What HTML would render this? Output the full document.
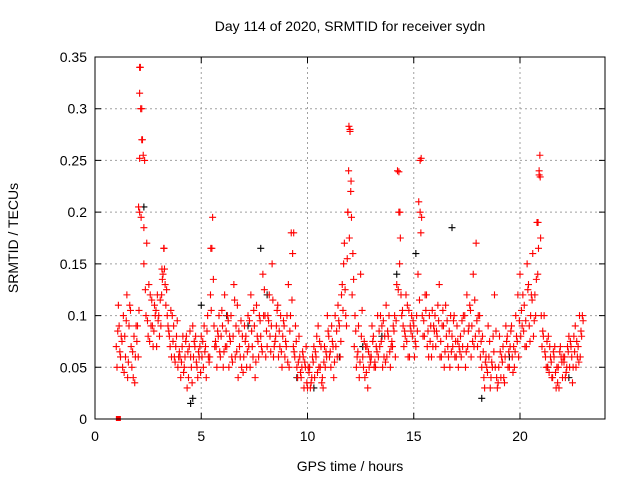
<!DOCTYPE html>
<html><head><meta charset="utf-8">
<style>
body{margin:0;background:#fff;}
svg{display:block;font-family:"Liberation Sans",sans-serif;}
</style></head>
<body>
<svg id="chart" width="640" height="480">
<text x="350" y="31" font-size="14" text-anchor="middle">Day 114 of 2020, SRMTID for receiver sydn</text>
<text x="350" y="471" font-size="14" text-anchor="middle">GPS time / hours</text>
<text x="18" y="238" font-size="14" text-anchor="middle" transform="rotate(-90 18 238)">SRMTID / TECUs</text>
<g id="grid"></g>
<g id="marks"></g>
<rect x="95" y="57" width="510" height="362" fill="none" stroke="#000" stroke-width="1"/>
<g id="ticks"></g>
</svg>
<script>
const xTicks=[0,5,10,15,20];
const yTicks=[0,0.05,0.1,0.15,0.2,0.25,0.3,0.35];
const yTickLabels=["0","0.05","0.1","0.15","0.2","0.25","0.3","0.35"];
const times=[1.0,1.1,1.2,1.3,1.4,1.5,1.6,1.7,1.8,1.9,2.0,2.1,2.2,2.3,2.4,2.5,2.6,2.7,2.8,2.9,3.0,3.1,3.2,3.3,3.4,3.5,3.6,3.7,3.8,3.9,4.0,4.1,4.2,4.3,4.4,4.5,4.6,4.7,4.8,4.9,5.0,5.1,5.2,5.3,5.4,5.5,5.6,5.7,5.8,5.9,6.0,6.1,6.2,6.3,6.4,6.5,6.6,6.7,6.8,6.9,7.0,7.1,7.2,7.3,7.4,7.5,7.6,7.7,7.8,7.9,8.0,8.1,8.2,8.3,8.4,8.5,8.6,8.7,8.8,8.9,9.0,9.1,9.2,9.3,9.4,9.5,9.6,9.7,9.8,9.9,10.0,10.1,10.2,10.3,10.4,10.5,10.6,10.7,10.8,10.9,11.0,11.1,11.2,11.3,11.4,11.5,11.6,11.7,11.8,11.9,12.0,12.1,12.2,12.3,12.4,12.5,12.6,12.7,12.8,12.9,13.0,13.1,13.2,13.3,13.4,13.5,13.6,13.7,13.8,13.9,14.0,14.1,14.2,14.3,14.4,14.5,14.6,14.7,14.8,14.9,15.0,15.1,15.2,15.3,15.4,15.5,15.6,15.7,15.8,15.9,16.0,16.1,16.2,16.3,16.4,16.5,16.6,16.7,16.8,16.9,17.0,17.1,17.2,17.3,17.4,17.5,17.6,17.7,17.8,17.9,18.0,18.1,18.2,18.3,18.4,18.5,18.6,18.7,18.8,18.9,19.0,19.1,19.2,19.3,19.4,19.5,19.6,19.7,19.8,19.9,20.0,20.1,20.2,20.3,20.4,20.5,20.6,20.7,20.8,20.9,21.0,21.1,21.2,21.3,21.4,21.5,21.6,21.7,21.8,21.9,22.0,22.1,22.2,22.3,22.4,22.5,22.6,22.7,22.8,22.9];
const seriesA=[.07,.11,.06,.05,.08,.12,.09,.07,.04,.06,
.09,.2,.3,.15,.1,.08,.12,.09,.11,.07,
.1,.09,.14,.13,.1,.08,.06,.09,.07,.05,
.06,.07,.05,.08,.04,.06,.09,.07,.05,.06,
.08,.05,.07,.1,.06,.165,.09,.07,.08,.06,
.09,.12,.07,.05,.1,.08,.06,.11,.07,.05,
.06,.08,.1,.05,.07,.09,.11,.06,.08,.14,
.1,.07,.12,.09,.06,.08,.11,.07,.05,.09,
.07,.13,.1,.16,.06,.05,.08,.04,.06,.05,
.03,.05,.04,.07,.06,.09,.05,.04,.07,.06,
.08,.05,.07,.1,.06,.09,.12,.15,.1,.2,
.28,.12,.07,.05,.09,.14,.06,.04,.07,.05,
.06,.08,.05,.1,.07,.09,.06,.11,.08,.05,
.07,.1,.13,.2,.12,.09,.08,.11,.06,.1,
.09,.07,.14,.25,.1,.08,.12,.06,.09,.07,
.1,.08,.13,.06,.09,.11,.07,.05,.08,.1,
.06,.05,.08,.07,.1,.12,.09,.06,.14,.08,
.07,.1,.05,.04,.06,.09,.03,.05,.12,.04,
.05,.04,.07,.06,.08,.05,.09,.07,.1,.12,
.14,.09,.11,.07,.13,.1,.16,.12,.19,.24,
.1,.08,.06,.05,.07,.04,.06,.03,.05,.07,
.04,.06,.05,.08,.07,.05,.09,.06,.1,.08];
const seriesB=[.05,.09,.08,.1,.06,.04,.11,.05,.08,.09,
.06,.34,.27,.25,.17,.13,.09,.07,.1,.12,
.08,.12,.165,.11,.09,.07,.1,.06,.08,.06,
.04,.08,.06,.03,.07,.05,.06,.08,.04,.07,
.06,.09,.04,.06,.12,.195,.07,.05,.1,.08,
.05,.07,.1,.08,.06,.13,.09,.04,.06,.08,
.09,.05,.07,.12,.06,.04,.08,.1,.07,.1,
.06,.1,.08,.15,.07,.09,.06,.1,.08,.06,
.1,.05,.18,.07,.09,.04,.06,.05,.03,.07,
.05,.03,.06,.04,.08,.05,.07,.03,.05,.1,
.06,.09,.04,.07,.11,.06,.13,.17,.09,.24,
.22,.16,.1,.06,.04,.08,.05,.07,.03,.06,
.09,.05,.07,.06,.1,.05,.08,.06,.1,.07,
.09,.06,.24,.15,.1,.07,.12,.06,.09,.08,
.06,.1,.21,.18,.08,.12,.07,.1,.06,.09,
.07,.11,.06,.09,.05,.08,.06,.1,.07,.06,
.09,.07,.06,.1,.05,.07,.11,.09,.07,.17,
.1,.06,.08,.03,.05,.06,.04,.08,.05,.03,
.08,.06,.04,.09,.05,.07,.06,.05,.08,.06,
.08,.12,.07,.15,.09,.12,.08,.1,.14,.255,
.07,.1,.05,.08,.06,.04,.07,.05,.03,.06,
.06,.04,.07,.05,.06,.08,.05,.07,.06,.1];
const seriesC=[.085,.065,.075,.045,.095,.055,.105,.065,.035,.075,
.105,.195,.255,.125,.095,.075,.115,.085,.105,.095,
.115,.135,.145,.125,.085,.105,.075,.055,.095,.065,
.055,.045,.075,.065,.085,.035,.075,.055,.065,.045,
.075,.065,.085,.055,.105,.135,.075,.085,.065,.105,
.065,.085,.095,.075,.055,.115,.065,.085,.095,.045,
.075,.065,.095,.085,.105,.055,.075,.095,.065,.125,
.085,.095,.065,.115,.075,.105,.085,.065,.095,.075,
.055,.085,.115,.065,.075,.055,.045,.065,.055,.035,
.045,.035,.055,.065,.045,.075,.035,.055,.065,.085,
.065,.075,.055,.085,.095,.075,.105,.125,.155,.175,
.195,.135,.085,.065,.055,.105,.075,.045,.065,.055,
.075,.055,.065,.085,.075,.095,.055,.085,.065,.075,
.085,.095,.125,.175,.105,.085,.075,.105,.085,.095,
.075,.085,.115,.195,.095,.105,.085,.075,.105,.085,
.085,.095,.075,.105,.065,.095,.085,.065,.095,.075,
.075,.065,.095,.085,.065,.085,.105,.075,.115,.095,
.085,.075,.065,.055,.045,.075,.055,.065,.085,.035,
.065,.055,.035,.075,.065,.085,.045,.065,.075,.095,
.105,.085,.095,.125,.075,.115,.095,.135,.165,.175,
.085,.065,.075,.045,.055,.065,.045,.035,.065,.055,
.055,.045,.065,.075,.035,.065,.075,.055,.085,.095];
const extraT=[2.1,2.1,2.15,2.2,2.1,2.05,2.3,11.95,12.0,12.05,11.9,14.35,14.3,15.35,15.3,20.9,20.95,20.85,9.35,5.45,3.25,3.15];
const extraV=[0.34,0.315,0.3,0.27,0.252,0.205,0.185,0.283,0.278,0.23,0.2,0.2,0.239,0.252,0.2,0.236,0.234,0.19,0.18,0.165,0.165,0.145];
const blackT=[2.3,4.5,5.0,6.2,7.8,8.1,9.5,10.3,11.5,13.5,14.2,15.1,16.8,18.2,19.5,21.3,22.3,4.6,7.2,12.6];
const blackV=[0.205,0.015,0.11,0.1,0.165,0.12,0.04,0.03,0.06,0.08,0.14,0.16,0.185,0.02,0.06,0.05,0.04,0.02,0.09,0.07];
const squareT=[1.1];
const squareV=[0];

const X0=95,X1=605,Y0=419,Y1=57;
const xs=t=>X0+(t/24)*(X1-X0);
const ys=v=>Y0-(v/0.35)*(Y0-Y1);
const NS='http://www.w3.org/2000/svg';
const grid=document.getElementById('grid'),marks=document.getElementById('marks'),ticks=document.getElementById('ticks');
function el(tag,attrs,parent){const e=document.createElementNS(NS,tag);for(const k in attrs)e.setAttribute(k,attrs[k]);parent.appendChild(e);return e;}
yTicks.forEach((v,i)=>{
  const y=ys(v);
  if(i>0&&i<yTicks.length-1){const g=el('line',{x1:X0,x2:X1,y1:y,y2:y,stroke:'#a0a0a0','stroke-dasharray':'2,3'},grid);
  
  }
  const tk=el('path',{d:`M${X0} ${y}h6M${X1} ${y}h-6`,stroke:'#000'},ticks);
  
  
  const tx=el('text',{x:X0-8,y:y+5,'font-size':14,'text-anchor':'end'},ticks);
  tx.textContent=yTickLabels[i];
  
  
});
xTicks.forEach(t=>{
  const x=xs(t);
  if(t>0){const g=el('line',{x1:x,x2:x,y1:Y0,y2:Y1,stroke:'#a0a0a0','stroke-dasharray':'2,3'},grid);
  
  }
  const tk=el('path',{d:`M${x} ${Y0}v-6M${x} ${Y1}v6`,stroke:'#000'},ticks);
  
  
  const tx=el('text',{x:x,y:Y0+22,'font-size':14,'text-anchor':'middle'},ticks);
  tx.textContent=String(t);
  
  
});
function plus(t,v,color,name){
  const x=xs(t),y=ys(v);
  const p=el('path',{d:`M${x-3.5} ${y}h7M${x} ${y-3.5}v7`,stroke:color,'stroke-width':1.1,fill:'none'},marks);
  
  
}
blackT.forEach((t,i)=>plus(t,blackV[i],'#000','black-point'));
times.forEach((t,i)=>{
  plus(t,seriesA[i],'#ff0000','red-point');
  plus(t+0.035,seriesB[i],'#ff0000','red-point');
  plus(t+0.07,seriesC[i],'#ff0000','red-point');
});
extraT.forEach((t,i)=>plus(t,extraV[i],'#ff0000','red-point'));
squareT.forEach((t,i)=>{
  const r=el('rect',{x:xs(t)-2.5,y:ys(squareV[i])-3,width:5,height:5,fill:'#ff0000'},marks);
  
  
});
</script>
</body></html>
